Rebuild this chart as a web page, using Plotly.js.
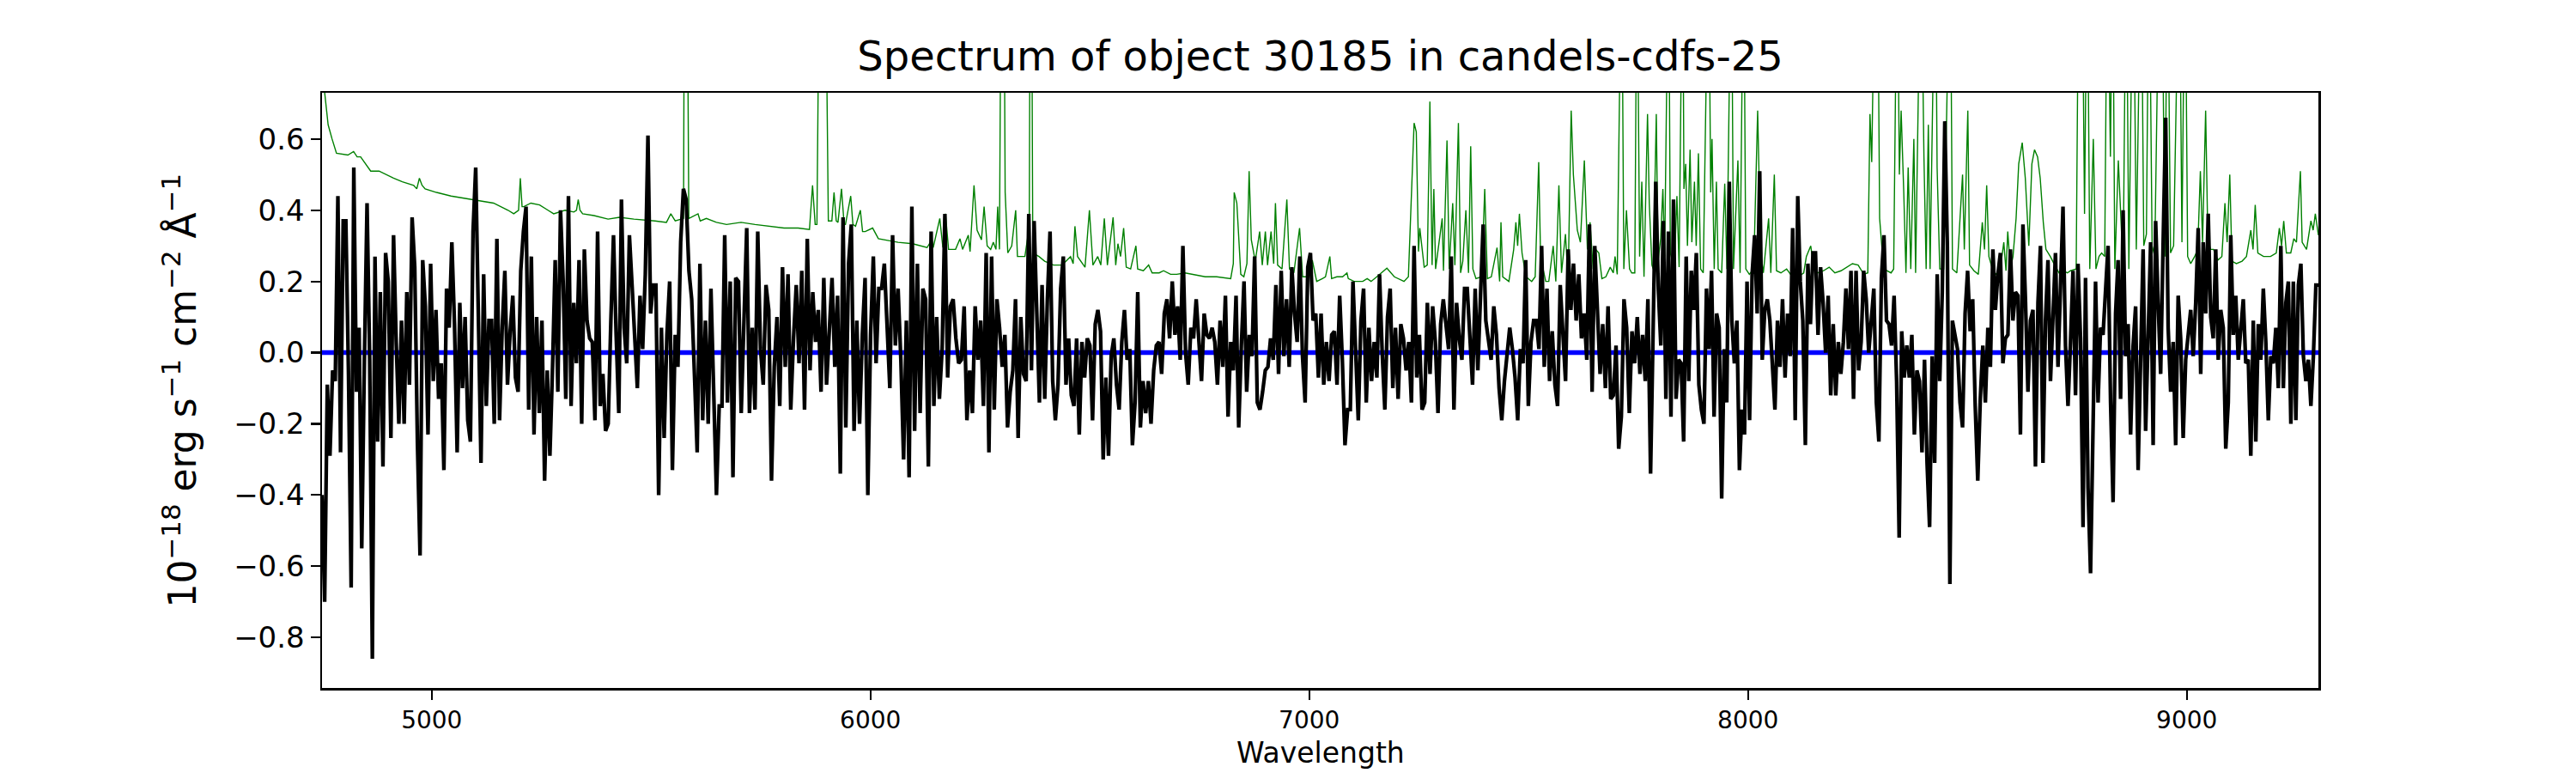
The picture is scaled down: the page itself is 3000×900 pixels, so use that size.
<!DOCTYPE html>
<html>
<head>
<meta charset="utf-8">
<script src="https://cdn.plot.ly/plotly-3.0.1.min.js"></script>
<style>
  body { margin: 0; background: #fff; }
  #spectrum { width: 3000px; height: 900px; }
</style>
</head>
<body>
<div id="spectrum"></div>
<script>
// flux, one array per stretch of wavelength
var segEdges = [4750, 5511, 6270, 7027, 7784, 8541, 9300];

var fluxSeg1 = [-0.40, -0.70, -0.09, -0.29, -0.05, -0.08, 0.44, -0.28, 0.37, 0.37, -0.06, -0.66, 0.52, -0.11, 0.07, -0.55,
    -0.02, 0.42, -0.02, -0.86, 0.27, -0.25, 0.17, -0.32, 0.28, 0.20, -0.24, 0.33, 0.03, -0.20, 0.09, -0.20, 0.17, -0.09,
    0.38, 0.24, -0.25, -0.57, 0.26, 0.13, -0.23, 0.25, -0.08, 0.12, -0.13, -0.03, -0.33, 0.18, 0.07, 0.31, 0.08, -0.28,
    0.14, -0.10, 0.10, -0.19, -0.25, 0.34, 0.52, 0.09, -0.31, 0.22, -0.15, 0.09, 0.09, -0.20, 0.32, -0.19, 0.07, 0.23,
    -0.09, 0.06, 0.16, -0.07, -0.11, 0.23, 0.34, 0.41, -0.16, 0.27, -0.23, 0.10, -0.17, 0.09, -0.36, -0.05, -0.29, -0.04,
    0.26, -0.11, 0.40, 0.20, -0.13, 0.44, -0.15, 0.14, -0.03, 0.26, -0.20, 0.29, 0.09, 0.04, 0.03, -0.19, 0.34, -0.15,
    -0.06, -0.22, -0.20, 0.09, 0.33, 0.05, -0.17, 0.43, 0.07, -0.03, 0.33, 0.19, 0.03, -0.10, 0.16, 0.01, 0.22, 0.61,
    0.11, 0.19];

var fluxSeg2 = [0.19, -0.40, 0.07, -0.24, 0.05, 0.20, -0.33, 0.05, -0.04, 0.31, 0.46, 0.43, 0.23, 0.15, -0.06, -0.28,
    0.25, -0.19, 0.09, -0.20, 0.18, -0.08, -0.40, -0.15, -0.15, 0.33, -0.14, 0.20, -0.35, 0.21, 0.20, -0.17, 0.09, 0.35,
    -0.17, 0.07, -0.16, 0.34, 0.01, -0.09, 0.19, 0.12, -0.36, -0.04, 0.10, -0.15, 0.24, -0.04, 0.22, -0.16, 0.04, 0.19,
    -0.03, 0.23, -0.16, 0.32, -0.05, 0.17, 0.03, 0.12, -0.11, 0.21, -0.09, 0.05, 0.21, -0.04, 0.16, -0.34, 0.38, -0.21,
    0.25, 0.36, -0.22, 0.09, -0.20, 0.05, 0.21, -0.40, 0.05, 0.27, -0.03, 0.18, 0.18, 0.25, 0.04, -0.10, 0.33, 0.02,
    0.18, -0.02, -0.30, 0.09, -0.35, 0.41, -0.22, 0.25, -0.17, 0.18, 0.15, -0.32, 0.34, -0.15, 0.10, -0.13, 0.01, 0.39,
    -0.07, 0.13, 0.15, 0.04, -0.03, -0.02, 0.13, -0.19, -0.05, -0.17, 0.13, -0.02, 0.09, -0.15, 0.28];

var fluxSeg3 = [-0.28, 0.27, -0.16, 0.15, 0.07, -0.04, 0.05, -0.21, -0.11, -0.05, 0.15, -0.24, 0.10, -0.06, -0.08, 0.39,
    -0.05, 0.37, 0.08, -0.14, 0.19, -0.13, 0.15, 0.34, -0.08, -0.19, -0.09, 0.18, 0.27, -0.09, 0.04, -0.12, -0.15, 0.04,
    -0.23, 0.03, -0.07, 0.04, 0.02, -0.19, 0.08, 0.12, 0.06, -0.30, -0.07, -0.29, -0.01, 0.04, -0.09, -0.16, 0.03, 0.12,
    -0.02, 0.01, -0.26, -0.14, 0.17, -0.21, -0.08, -0.17, -0.08, -0.20, -0.05, 0.02, 0.03, -0.06, 0.11, 0.15, 0.04, 0.20,
    0.05, 0.13, -0.02, 0.30, 0.00, -0.09, 0.07, 0.04, 0.15, 0.03, -0.08, 0.11, 0.05, 0.04, 0.07, 0.03, -0.09, 0.09, -0.04,
    0.16, -0.18, 0.03, -0.05, 0.16, -0.21, 0.02, 0.20, -0.11, 0.05, -0.01, 0.27, -0.14, -0.16, -0.11, -0.05, -0.04, 0.04,
    -0.02, 0.19, -0.06, 0.23, -0.01, 0.15, -0.04, 0.24, 0.11, 0.03, 0.27, -0.01, -0.14, 0.24, 0.28, 0.09, 0.11, -0.07];

var fluxSeg4 = [0.11, -0.09, 0.03, -0.08, 0.05, 0.06, -0.09, 0.16, -0.02, -0.26, -0.16, -0.16, 0.20, 0.00, -0.19, 0.09,
    0.18, -0.14, 0.07, -0.08, 0.03, -0.07, 0.22, 0.00, -0.16, 0.10, 0.18, -0.10, 0.07, -0.13, 0.08, 0.04, -0.05, 0.03,
    -0.14, 0.30, -0.07, 0.05, -0.16, -0.14, 0.14, -0.06, 0.13, 0.03, -0.17, 0.08, 0.15, 0.08, 0.01, 0.27, -0.16, 0.14,
    0.04, -0.02, 0.18, 0.18, 0.06, -0.09, 0.18, -0.05, 0.16, 0.36, 0.09, 0.04, -0.02, 0.13, 0.05, -0.10, -0.19, -0.08,
    0.01, 0.07, 0.01, -0.07, -0.19, 0.01, -0.03, 0.26, -0.15, 0.03, 0.09, 0.09, 0.01, 0.30, -0.04, 0.18, -0.08, 0.06,
    -0.09, -0.15, 0.19, 0.04, -0.08, 0.29, 0.12, 0.25, 0.09, 0.22, 0.04, 0.11, -0.02, 0.36, -0.11, 0.30, 0.09, -0.06,
    0.08, -0.10, 0.13, -0.13, -0.12, 0.02, -0.27, -0.18, 0.15, 0.07, -0.17, 0.06, -0.03, 0.10, -0.06, 0.05, -0.08, 0.15,
    -0.34];

var fluxSeg5 = [0.14, 0.48, 0.18, 0.02, 0.37, -0.13, 0.34, -0.18, 0.43, -0.13, -0.02, -0.03, -0.25, 0.27, -0.08, 0.23,
    0.12, 0.28, -0.09, -0.16, -0.20, 0.18, 0.01, 0.23, -0.18, 0.11, 0.07, -0.41, 0.01, -0.14, 0.48, 0.09, -0.03, 0.09,
    -0.33, -0.16, -0.23, 0.20, -0.19, 0.22, 0.33, 0.11, 0.51, -0.02, 0.12, 0.15, 0.09, -0.02, -0.16, 0.09, -0.04, 0.15,
    -0.07, 0.11, -0.01, 0.35, -0.19, 0.44, 0.20, 0.09, -0.26, 0.25, 0.08, 0.28, 0.28, 0.05, 0.24, 0.14, 0.00, 0.16,
    -0.12, 0.08, -0.12, 0.03, -0.06, 0.03, 0.18, 0.01, 0.23, -0.13, 0.23, -0.05, 0.03, 0.23, 0.15, 0.00, 0.08, 0.18,
    -0.14, -0.25, 0.21, 0.33, 0.09, 0.08, 0.02, 0.16, -0.08, -0.52, 0.06, -0.07, 0.02, -0.07, 0.05, -0.23, -0.05, -0.08,
    -0.28, -0.02, -0.31, -0.49, -0.01, -0.31, 0.22, -0.08, 0.17, 0.65, 0.30, -0.65, 0.09, 0.05, 0.01, -0.14, -0.21, 0.11,
    0.23, 0.06, 0.15, -0.15, -0.36, -0.13, 0.02];

var fluxSeg6 = [-0.14, 0.07, -0.04, 0.29, 0.12, 0.22, 0.28, -0.03, 0.04, 0.05, 0.29, 0.09, 0.17, 0.16, -0.23, 0.36,
    0.15, -0.11, 0.09, 0.12, -0.32, 0.14, 0.30, -0.31, 0.09, 0.26, -0.08, 0.08, 0.28, -0.04, 0.16, 0.41, 0.02, -0.15,
    0.03, 0.23, -0.12, 0.25, 0.04, -0.49, 0.21, -0.38, -0.62, -0.16, 0.20, -0.14, 0.07, 0.05, 0.18, 0.30, -0.14, -0.42,
    0.11, 0.26, -0.13, 0.40, -0.01, 0.08, -0.23, 0.02, 0.13, -0.33, -0.02, 0.29, -0.22, 0.08, 0.31, -0.26, 0.37, 0.14,
    -0.06, 0.31, 0.66, 0.07, -0.11, 0.03, -0.26, 0.16, 0.04, -0.24, -0.02, 0.05, 0.12, -0.01, 0.14, 0.35, -0.06, 0.31,
    0.11, 0.39, 0.10, 0.04, 0.29, -0.02, 0.12, 0.07, -0.27, -0.14, 0.33, 0.05, 0.16, -0.02, 0.07, 0.15, -0.03, -0.02,
    -0.29, 0.09, -0.25, 0.08, -0.02, 0.18, 0.03, -0.19, -0.01, -0.03, 0.07, -0.10, 0.30, -0.10, 0.14, 0.20, -0.20, 0.20,
    -0.19, 0.19, 0.25, -0.01, -0.08, -0.02, -0.15, -0.01, 0.19];

// green curve (error / sky) : wavelength and value pairs, spikes above 0.73 run off the top
var greenWave = [4750, 4757, 4764, 4773, 4783, 4809, 4816, 4822, 4830, 4838, 4861, 4880, 4913, 4933, 4959, 4966, 4972,
    4978, 4985, 5011, 5044, 5089, 5115, 5141, 5174, 5187, 5198, 5202, 5206, 5210, 5226, 5246, 5265, 5278, 5304, 5324,
    5330, 5334, 5338, 5344, 5370, 5402, 5428, 5461, 5509,
    5535, 5545, 5555, 5574, 5576, 5582, 5586, 5607, 5612, 5626, 5649, 5672, 5705, 5737, 5770, 5803, 5835, 5861, 5868,
    5874, 5878, 5884, 5897, 5904, 5912, 5917, 5922, 5926, 5934, 5940, 5943, 5955, 5960, 5966, 5977, 5982, 5988, 6005,
    6018, 6034, 6063, 6096, 6129, 6140, 6143, 6158, 6165, 6171, 6178, 6194, 6204, 6210, 6223, 6227, 6236, 6243, 6253,
    6259, 6266,
    6274, 6280, 6286, 6290, 6294, 6298, 6304, 6307, 6313, 6322, 6331, 6335, 6352, 6362, 6364, 6367, 6370, 6384, 6397,
    6417, 6437, 6456, 6462, 6466, 6472, 6489, 6499, 6507, 6518, 6525, 6533, 6540, 6553, 6559, 6564, 6570, 6577, 6583,
    6593, 6605, 6609, 6622, 6634, 6642, 6658, 6668, 6684, 6698, 6717, 6737, 6763, 6789, 6821, 6827, 6829, 6835, 6840,
    6844, 6851, 6858, 6863, 6868, 6877, 6887, 6893, 6900, 6905, 6913, 6919, 6923, 6928, 6938, 6949, 6955, 6965, 6978,
    6985, 6998, 7007, 7017, 7030,
    7037, 7047, 7051, 7063, 7076, 7086, 7089, 7102, 7122, 7132, 7141, 7154, 7177, 7194, 7216, 7226, 7239, 7244, 7249,
    7252, 7262, 7269, 7275, 7280, 7284, 7288, 7295, 7303, 7306, 7314, 7319, 7327, 7332, 7340, 7345, 7350, 7357, 7363,
    7368, 7373, 7380, 7393, 7400, 7406, 7415, 7428, 7434, 7437, 7441, 7455, 7466, 7471, 7475, 7479, 7485, 7494, 7507,
    7515, 7523, 7528, 7533, 7539, 7546, 7556, 7562, 7569, 7575, 7584, 7590, 7597, 7602, 7611, 7618, 7627, 7634, 7640,
    7647, 7653, 7660, 7667, 7676, 7686, 7693, 7697, 7702, 7712, 7717, 7723, 7730, 7735, 7742, 7747, 7753, 7758, 7763,
    7771, 7775, 7781,
    7784, 7791, 7795, 7801, 7806, 7810, 7819, 7823, 7832, 7838, 7843, 7851, 7854, 7858, 7862, 7868, 7872, 7878, 7882,
    7887, 7892, 7898, 7910, 7915, 7918, 7923, 7928, 7932, 7940, 7947, 7952, 7962, 7967, 7977, 7982, 7990, 7995, 8003,
    8013, 8022, 8029, 8035, 8047, 8052, 8060, 8065, 8075, 8088, 8101, 8114, 8127, 8133, 8143, 8150, 8159, 8172, 8185,
    8198, 8212, 8225, 8238, 8251, 8264, 8273, 8278, 8282, 8285, 8290, 8295, 8300, 8309, 8317, 8326, 8332, 8340, 8345,
    8349, 8355, 8360, 8365, 8371, 8378, 8382, 8394, 8401, 8406, 8411, 8415, 8427, 8431, 8437, 8446, 8461, 8466, 8476,
    8489, 8493, 8501, 8505, 8515, 8525, 8534, 8539,
    8544, 8549, 8557, 8565, 8575, 8583, 8588, 8592, 8598, 8604, 8611, 8617, 8625, 8632, 8640, 8647, 8653, 8660, 8666,
    8673, 8679, 8689, 8699, 8709, 8718, 8728, 8735, 8748, 8754, 8761, 8767, 8773, 8779, 8787, 8793, 8800, 8806, 8813,
    8819, 8826, 8831, 8836, 8844, 8849, 8855, 8862, 8868, 8878, 8885, 8896, 8902, 8908, 8914, 8921, 8927, 8938, 8943,
    8950, 8956, 8963, 8970, 8983, 8989, 8996, 9002, 9009, 9018, 9025, 9031, 9036, 9043, 9048, 9054, 9061, 9071, 9080,
    9087, 9092, 9098, 9103, 9113, 9126, 9136, 9146, 9151, 9156, 9162, 9175, 9191, 9204, 9211, 9216, 9221, 9227, 9237,
    9244, 9250, 9259, 9263, 9273, 9283, 9288, 9293, 9300];

var greenFlux = [0.80, 0.72, 0.64, 0.60, 0.56, 0.555, 0.56, 0.565, 0.55, 0.55, 0.51, 0.51, 0.49, 0.48, 0.47, 0.46, 0.49,
    0.47, 0.46, 0.45, 0.44, 0.43, 0.425, 0.42, 0.40, 0.39, 0.40, 0.49, 0.41, 0.41, 0.42, 0.415, 0.40, 0.39, 0.40, 0.395,
    0.40, 0.43, 0.40, 0.39, 0.385, 0.375, 0.38, 0.375, 0.37,
    0.366, 0.39, 0.37, 0.377, 1.2, 1.2, 0.377, 0.39, 0.37, 0.377, 0.366, 0.36, 0.366, 0.36, 0.355, 0.35, 0.35, 0.346, 0.47,
    0.36, 0.36, 1.2, 1.2, 0.37, 0.37, 0.45, 0.37, 0.366, 0.46, 0.36, 0.36, 0.44, 0.36, 0.355, 0.40, 0.34, 0.34, 0.35,
    0.32, 0.317, 0.31, 0.306, 0.295, 0.317, 0.295, 0.377, 0.295, 0.39, 0.29, 0.29, 0.32, 0.29, 0.33, 0.284, 0.47, 0.344,
    0.317, 0.41, 0.30,
    0.29, 0.31, 0.29, 0.41, 0.29, 1.2, 1.2, 0.45, 0.28, 0.30, 0.40, 0.27, 0.27, 0.355, 1.2, 1.2, 0.28, 0.27, 0.257,
    0.246, 0.246, 0.27, 0.25, 0.355, 0.27, 0.24, 0.40, 0.246, 0.27, 0.246, 0.377, 0.246, 0.38, 0.246, 0.306, 0.27, 0.35,
    0.24, 0.235, 0.30, 0.235, 0.23, 0.246, 0.224, 0.224, 0.23, 0.22, 0.22, 0.224, 0.22, 0.213, 0.213, 0.208, 0.25, 0.45,
    0.42, 0.30, 0.22, 0.213, 0.25, 0.51, 0.317, 0.257, 0.34, 0.246, 0.34, 0.246, 0.34, 0.25, 0.42, 0.246, 0.235, 0.43,
    0.235, 0.224, 0.35, 0.213, 0.213, 0.26, 0.20, 0.208,
    0.213, 0.27, 0.208, 0.213, 0.213, 0.224, 0.208, 0.20, 0.20, 0.208, 0.20, 0.213, 0.237, 0.213, 0.20, 0.213, 0.645,
    0.62, 0.284, 0.35, 0.24, 0.246, 0.705, 0.246, 0.46, 0.235, 0.30, 0.377, 0.23, 0.596, 0.235, 0.42, 0.246, 0.645,
    0.224, 0.257, 0.40, 0.224, 0.58, 0.235, 0.208, 0.213, 0.46, 0.208, 0.213, 0.295, 0.20, 0.366, 0.213, 0.20, 0.29,
    0.366, 0.30, 0.39, 0.28, 0.213, 0.20, 0.213, 0.535, 0.224, 0.235, 0.20, 0.20, 0.30, 0.20, 0.47, 0.224, 0.333, 0.20,
    0.68, 0.50, 0.344, 0.31, 0.54, 0.29, 0.366, 0.235, 0.29, 0.28, 0.208, 0.213, 0.24, 0.224, 0.27, 0.22, 1.2, 0.235,
    0.40, 0.235, 0.224, 0.224, 1.2, 0.27, 0.48, 0.213, 0.67, 0.42, 0.246,
    0.235, 0.67, 0.257, 0.32, 0.46, 0.27, 1.2, 0.28, 0.235, 0.44, 0.24, 1.2, 0.46, 0.53, 0.30, 0.57, 0.31, 0.48, 0.30,
    0.56, 0.235, 0.224, 1.2, 0.45, 0.60, 0.235, 0.48, 0.235, 0.224, 0.475, 0.235, 1.2, 0.235, 0.54, 0.224, 1.2, 0.235,
    0.22, 0.235, 0.68, 0.28, 0.224, 0.377, 0.224, 0.50, 0.23, 0.224, 0.235, 0.213, 0.213, 0.224, 0.27, 0.30, 0.235,
    0.224, 0.23, 0.24, 0.224, 0.23, 0.24, 0.25, 0.246, 0.22, 0.224, 0.67, 0.535, 1.2, 1.2, 1.2, 0.377, 0.235, 0.23,
    0.224, 0.235, 1.2, 0.50, 0.68, 0.45, 0.224, 0.52, 0.235, 0.60, 0.224, 1.2, 0.55, 0.235, 0.64, 0.235, 1.2, 0.52,
    0.235, 0.235, 1.2, 0.235, 0.224, 0.50, 0.29, 0.68, 0.246, 0.23, 0.22, 0.366, 0.29,
    0.47, 0.27, 0.235, 0.22, 0.235, 0.31, 0.23, 0.34, 0.235, 0.27, 0.377, 0.53, 0.59, 0.49, 0.30, 0.53, 0.57, 0.55, 0.49,
    0.366, 0.29, 0.27, 0.246, 0.224, 0.23, 0.224, 0.23, 0.235, 1.2, 1.2, 0.39, 1.2, 0.235, 0.60, 0.235, 0.27, 0.28, 0.27,
    1.2, 0.55, 1.2, 0.235, 0.54, 0.41, 0.235, 1.2, 0.235, 1.2, 0.29, 1.2, 0.30, 0.333, 1.2, 0.30, 0.27, 1.2, 1.2,
    0.27, 1.2, 0.28, 0.30, 1.2, 0.31, 1.2, 0.27, 0.25, 0.27, 0.29, 0.51, 0.31, 0.68, 0.32, 0.29, 0.29, 0.26, 0.27,
    0.42, 0.31, 0.50, 0.257, 0.25, 0.257, 0.27, 0.344, 0.29, 0.415, 0.28, 0.27, 0.27, 0.28, 0.35, 0.30, 0.37, 0.28, 0.28,
    0.32, 0.31, 0.51, 0.31, 0.29, 0.37, 0.344, 0.39, 0.33];

var zeroWave = [4750, 9300];
var zeroFlux = [0, 0];

var xTicks = [5000, 6000, 7000, 8000, 9000];
var yTicks = [-0.8, -0.6, -0.4, -0.2, 0.0, 0.2, 0.4, 0.6];

var titleText = "Spectrum of object 30185 in candels-cdfs-25";
var yLabel = "10<sup>\u221218</sup> erg s<sup>\u22121</sup> cm<sup>\u22122</sup> \u00c5<sup>\u22121</sup>";
var xLabel = "Wavelength";

// build the wavelength grid for each stretch of flux
function build_spectrum() {
    var segs = [fluxSeg1, fluxSeg2, fluxSeg3, fluxSeg4, fluxSeg5, fluxSeg6];
    var wave = [], flux = [];
    for (let s = 0; s < segs.length; s++) {
        var lo = segEdges[s], hi = segEdges[s + 1];
        var n = segs[s].length;
        for (let i = 0; i < n; i++) {
            wave.push(lo + i * (hi - lo) / n);
            flux.push(segs[s][i]);
        }
    }
    wave.push(segEdges[segEdges.length - 1]);
    flux.push(fluxSeg6[fluxSeg6.length - 1]);
    return [wave, flux];
}

var spec = build_spectrum();
var font = "DejaVu Sans, Liberation Sans, sans-serif";

var traces = [
    { x: greenWave, y: greenFlux, type: 'scatter', mode: 'lines', line: { color: '#008000', width: 1.4 }, hoverinfo: 'skip' },
    { x: zeroWave, y: zeroFlux, type: 'scatter', mode: 'lines', line: { color: '#0000ff', width: 5.5 }, hoverinfo: 'skip' },
    { x: spec[0], y: spec[1], type: 'scatter', mode: 'lines', line: { color: '#000000', width: 4.3 }, hoverinfo: 'skip' }
];

var W = 3000, H = 900;
var pl = 375, pr = 2700, pt = 108, pb = 801;

var layout = {
    width: W,
    height: H,
    paper_bgcolor: '#ffffff',
    plot_bgcolor: '#ffffff',
    showlegend: false,
    margin: { l: pl, r: W - pr, t: pt, b: H - pb, pad: 0 },
    font: { family: font, color: '#000000' },
    title: {
        text: titleText,
        font: { family: font, size: 48, color: '#000000' },
        x: 0.5, xref: 'paper', xanchor: 'center',
        y: 1 - 65 / H, yref: 'container', yanchor: 'middle'
    },
    xaxis: {
        range: [4750, 9300],
        tickvals: xTicks,
        ticktext: xTicks.map(String),
        ticks: 'outside', ticklen: 11, tickwidth: 2.2, tickcolor: '#000000',
        tickfont: { family: font, size: 28, color: '#000000' },
        showline: true, mirror: true, linecolor: '#000000', linewidth: 2.5,
        showgrid: false, zeroline: false
    },
    yaxis: {
        range: [-0.942, 0.73],
        tickvals: yTicks,
        tickformat: '.1f',
        ticks: 'outside', ticklen: 11, tickwidth: 2.2, tickcolor: '#000000',
        tickfont: { family: font, size: 34, color: '#000000' },
        showline: true, mirror: true, linecolor: '#000000', linewidth: 2.5,
        showgrid: false, zeroline: false
    },
    annotations: [
        {
            text: yLabel, textangle: -90, showarrow: false,
            xref: 'paper', yref: 'paper', x: (209 - pl) / (pr - pl), y: 0.5,
            xanchor: 'center', yanchor: 'middle',
            font: { family: font, size: 44, color: '#000000' }
        },
        {
            text: xLabel, showarrow: false,
            xref: 'paper', yref: 'paper', x: 0.5, y: (pb - 877) / (pb - pt),
            xanchor: 'center', yanchor: 'middle',
            font: { family: font, size: 33, color: '#000000' }
        }
    ]
};

Plotly.newPlot('spectrum', traces, layout, { staticPlot: true, responsive: false, displayModeBar: false });
</script>
</body>
</html>
